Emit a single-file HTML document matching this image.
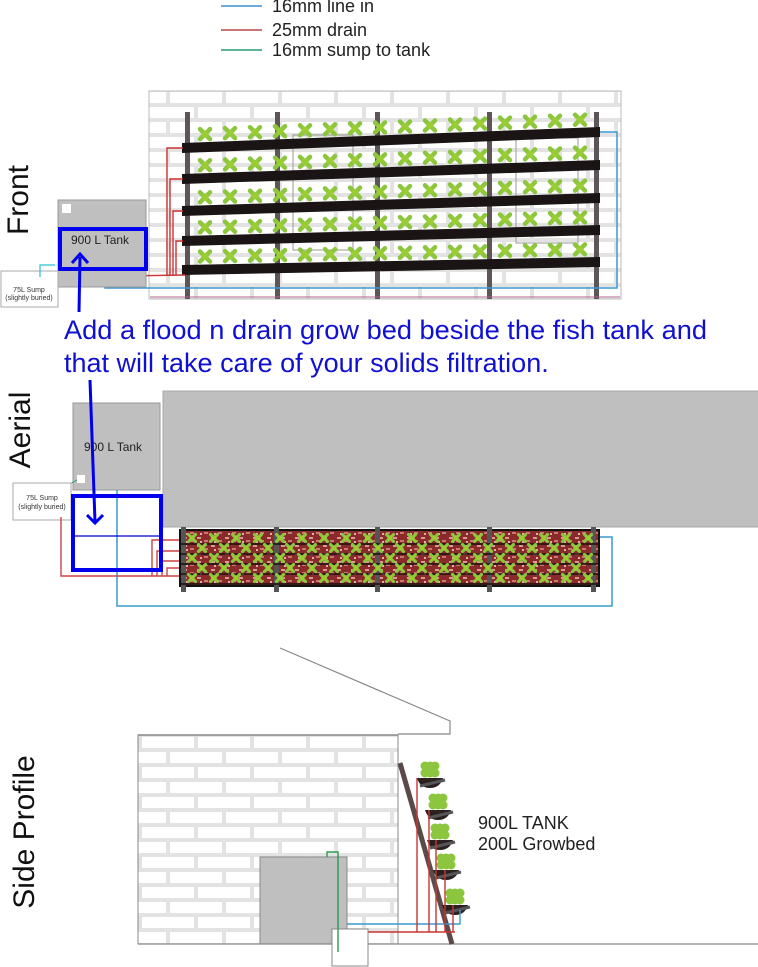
<!DOCTYPE html>
<html><head><meta charset="utf-8"><style>
html,body{margin:0;padding:0;background:#fff;}
svg{display:block;font-family:"Liberation Sans",Arial,sans-serif;}
</style></head><body>
<svg id="s" width="758" height="967" viewBox="0 0 758 967" xmlns="http://www.w3.org/2000/svg">
<defs>
<pattern id="brick" width="56" height="30" patternUnits="userSpaceOnUse">
<rect width="56" height="30" fill="#ffffff"/>
<rect x="1" y="1" width="54" height="13" fill="#fff" stroke="#dcdcdc" stroke-width="1.6"/>
<rect x="-27" y="16" width="54" height="13" fill="#fff" stroke="#dcdcdc" stroke-width="1.6"/>
<rect x="29" y="16" width="54" height="13" fill="#fff" stroke="#dcdcdc" stroke-width="1.6"/>
</pattern>
<pattern id="gravel" width="14" height="8" patternUnits="userSpaceOnUse">
<rect width="14" height="8" fill="#8a2a2a"/>
<rect x="1" y="1" width="4" height="2" fill="#d89a90"/>
<rect x="8" y="4" width="4" height="2" fill="#c87870"/>
<rect x="4" y="5" width="2" height="2" fill="#e0b0a8"/>
</pattern>
</defs>

<!-- legend -->
<line x1="221" y1="6" x2="262" y2="6" stroke="#3a8fcf" stroke-width="1.5"/>
<line x1="221" y1="30" x2="262" y2="30" stroke="#b24a44" stroke-width="1.5"/>
<line x1="221" y1="50" x2="262" y2="50" stroke="#2a9a70" stroke-width="1.5"/>
<text x="272" y="12" font-size="18" fill="#222">16mm line in</text>
<text x="272" y="36" font-size="18" fill="#222">25mm drain</text>
<text x="272" y="56" font-size="18" fill="#222">16mm sump to tank</text>

<!-- FRONT -->
<text transform="translate(28,200) rotate(-90)" font-size="30" text-anchor="middle" fill="#111">Front</text>
<rect x="149" y="91" width="472" height="208" fill="url(#brick)" stroke="#bbb"/>
<rect x="293" y="135" width="60" height="115" fill="none" stroke="#999"/>
<rect x="516" y="138" width="62" height="105" fill="none" stroke="#999"/>
<g id="frontPoles"></g>
<g id="frontBars"></g>
<polyline points="600,132 617,132 617,288 105,288 105,276" fill="none" stroke="#3a9acf" stroke-width="1.5"/>
<g stroke="#cc3333" stroke-width="1.4" fill="none">
<polyline points="183,148 167,148 167,275"/>
<polyline points="183,179 170,179 170,275"/>
<polyline points="183,211 173,211 173,275"/>
<polyline points="183,241 176,241 176,275"/>
<polyline points="55,277 185,275"/>
</g>
<line x1="150" y1="297" x2="620" y2="297" stroke="#b06090" stroke-width="1"/>
<rect x="58" y="200" width="88" height="87" fill="#c0bfc0" stroke="#999"/>
<rect x="62" y="204" width="9" height="9" fill="#fff"/>
<rect x="60" y="229" width="86" height="40" fill="none" stroke="#0000ee" stroke-width="4"/>
<text x="71" y="244" font-size="12" fill="#222">900 L Tank</text>
<rect x="1" y="271" width="57" height="36" fill="#fff" stroke="#aaa"/>
<text x="29" y="292" font-size="7" text-anchor="middle" fill="#333">75L Sump</text>
<text x="29" y="300" font-size="7" text-anchor="middle" fill="#333">(slightly buried)</text>
<polyline points="40,277 40,265 55,265" fill="none" stroke="#2ac0d0" stroke-width="1.2"/>

<!-- AERIAL -->
<text transform="translate(30,430) rotate(-90)" font-size="30" text-anchor="middle" fill="#111">Aerial</text>
<rect x="163" y="391" width="600" height="136" fill="#c0bfc0" stroke="#aaa"/>
<rect x="73" y="403" width="87" height="87" fill="#c0bfc0" stroke="#999"/>
<text x="84" y="451" font-size="12" fill="#222">900 L Tank</text>
<rect x="77" y="475" width="8" height="8" fill="#fff"/>
<line x1="63" y1="488" x2="77" y2="480" stroke="#2a9a70"/>
<rect x="13" y="483" width="58" height="37" fill="#fff" stroke="#aaa"/>
<text x="42" y="500" font-size="7" text-anchor="middle" fill="#333">75L Sump</text>
<text x="42" y="509" font-size="7" text-anchor="middle" fill="#333">(slightly buried)</text>
<polyline points="117,490 117,606 612,606 612,537 600,537" fill="none" stroke="#3a9acf" stroke-width="1.5"/>
<g stroke="#cc4444" stroke-width="1.4" fill="none">
<polyline points="61,517 61,576 180,576"/>
<polyline points="180,540 152,540 152,576"/>
<polyline points="180,551 157,551 157,576"/>
<polyline points="180,561 162,561 162,576"/>
<polyline points="180,568 167,568 167,576"/>
</g>
<rect x="73" y="496" width="88" height="74" fill="none" stroke="#0000ee" stroke-width="4"/>
<line x1="73" y1="536" x2="161" y2="536" stroke="#0000cc" stroke-width="1.2"/>
<rect x="180" y="530" width="419" height="56" fill="url(#gravel)" stroke="#111" stroke-width="2"/>
<g id="aerialRows"></g>

<!-- arrows + note -->
<line x1="79" y1="312" x2="80" y2="257" stroke="#0000ee" stroke-width="3"/>
<polyline points="72,263 80,254 88,263" fill="none" stroke="#0000ee" stroke-width="3"/>
<text x="64" y="339" font-size="27" fill="#1010d0" textLength="643" lengthAdjust="spacingAndGlyphs">Add a flood n drain grow bed beside the fish tank and</text>
<text x="64" y="372" font-size="27" fill="#1010d0">that will take care of your solids filtration.</text>
<line x1="90" y1="380" x2="95" y2="522" stroke="#0000ee" stroke-width="3"/>
<polyline points="87,515 95,523 103,515" fill="none" stroke="#0000ee" stroke-width="3"/>

<!-- SIDE -->
<text transform="translate(34,832) rotate(-90)" font-size="30" text-anchor="middle" fill="#111">Side Profile</text>
<polyline points="280,648 450,721 450,734 398,734" fill="none" stroke="#888" stroke-width="1.2"/>
<rect x="138" y="735" width="260" height="209" fill="url(#brick)" stroke="#888"/>
<line x1="138" y1="735" x2="398" y2="735" stroke="#888" stroke-width="1.5"/>
<rect x="260" y="857" width="87" height="87" fill="#c0bfc0" stroke="#888"/>
<line x1="138" y1="944" x2="758" y2="944" stroke="#888" stroke-width="1.2"/>
<line x1="400" y1="763" x2="452" y2="944" stroke="#5a4a48" stroke-width="5"/>
<g id="pots"></g>
<polyline points="347,924 460,924 460,910" fill="none" stroke="#3a9acf" stroke-width="1.4"/>
<polyline points="368,932 455,932" fill="none" stroke="#cc3333" stroke-width="1.4"/>
<g stroke="#cc3333" stroke-width="1.4">
<line x1="417" y1="778" x2="417" y2="932"/>
<line x1="429" y1="810" x2="429" y2="932"/>
<line x1="436" y1="840" x2="436" y2="932"/>
<line x1="445" y1="870" x2="445" y2="932"/>
<line x1="453" y1="905" x2="453" y2="932"/>
</g>
<rect x="332" y="929" width="36" height="37" fill="#fff" stroke="#888"/>
<polyline points="338,952 338,852 327,852 327,857" fill="none" stroke="#2a9a50" stroke-width="1.4"/>
<text x="478" y="829" font-size="18" fill="#222">900L TANK</text>
<text x="478" y="850" font-size="18" fill="#222">200L Growbed</text>
</svg>
<script>
var NS="http://www.w3.org/2000/svg";
function el(p,t,a){var e=document.createElementNS(NS,t);for(var k in a)e.setAttribute(k,a[k]);document.getElementById(p).appendChild(e);return e;}
function plant(p,x,y,r){el(p,"path",{d:"M"+(x-r)+","+(y-r)+"L"+(x+r)+","+(y+r)+"M"+(x+r)+","+(y-r)+"L"+(x-r)+","+(y+r),stroke:"#8cc63f","stroke-width":r*0.9,"stroke-linecap":"round"});el(p,"circle",{cx:x,cy:y,r:r*0.7,fill:"#9acd32"});}
[187,277,377,489,596].forEach(function(x){el("frontPoles","rect",{x:x-2,y:112,width:5,height:187,fill:"#5e5656"});});
var L=[148,179,211,241,270],R=[132,165,198,230,262];
for(var i=0;i<5;i++){
 el("frontBars","polygon",{points:"182,"+(L[i]-5)+" 600,"+(R[i]-5)+" 600,"+(R[i]+5)+" 182,"+(L[i]+5),fill:"#1a1414"});
 for(var x=205;x<595;x+=25){var y=L[i]+(R[i]-L[i])*(x-182)/418-13;plant("frontBars",x,y,5);}
}
[183,276,377,489,593].forEach(function(x){el("aerialRows","rect",{x:x-2,y:527,width:5,height:65,fill:"#555"});});
for(var r=0;r<5;r++){var yy=540+r*10;el("aerialRows","line",{x1:181,y1:yy+4,x2:598,y2:yy+4,stroke:"#1a1010","stroke-width":1.5});
 for(var x=192+(r%2)*10;x<595;x+=22)plant("aerialRows",x,yy-2,3.5);}
var P=[[430,778],[438,810],[440,840],[446,870],[455,905]];
P.forEach(function(p){var x=p[0],y=p[1];
 el("pots","path",{d:"M"+(x-13)+","+y+" L"+(x+13)+","+y+" Q"+(x+10)+","+(y+10)+" "+x+","+(y+10)+" Q"+(x-10)+","+(y+10)+" "+(x-13)+","+y+"Z",fill:"#2a2020"});
 el("pots","line",{x1:x-10,y1:y+8,x2:x+15,y2:y+2,stroke:"#555","stroke-width":3});
 for(var k=0;k<6;k++)el("pots","circle",{cx:x-5+(k%3)*5,cy:y-5-Math.floor(k/3)*7,r:4.5,fill:"#8cc63f"});
});
</script>
</body></html>
